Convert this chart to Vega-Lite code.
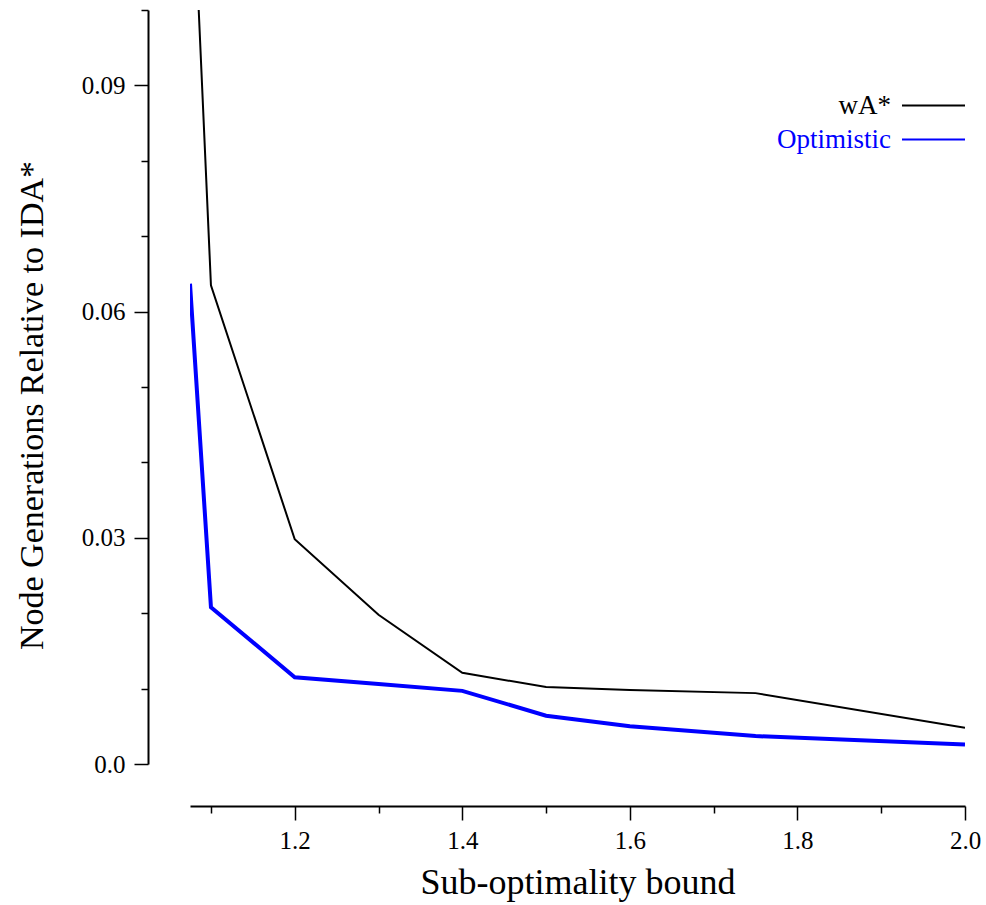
{
  "$schema": "https://vega.github.io/schema/vega-lite/v6.json",
  "autosize": {"type": "none"},
  "width": 775,
  "height": 754,
  "padding": {"left": 190, "top": 10, "right": 21, "bottom": 141},
  "background": "white",
  "config": {
    "view": {"stroke": null},
    "font": "Liberation Serif"
  },
  "data": {
    "values": [
      {"series": "wA*", "x": 1.075, "y": 0.126},
      {"series": "wA*", "x": 1.1, "y": 0.0635},
      {"series": "wA*", "x": 1.2, "y": 0.0298},
      {"series": "wA*", "x": 1.3, "y": 0.0198},
      {"series": "wA*", "x": 1.4, "y": 0.0121},
      {"series": "wA*", "x": 1.5, "y": 0.0102},
      {"series": "wA*", "x": 1.6, "y": 0.0098},
      {"series": "wA*", "x": 1.75, "y": 0.0094},
      {"series": "wA*", "x": 2.0, "y": 0.0048},
      {"series": "Optimistic", "x": 1.075, "y": 0.0637},
      {"series": "Optimistic", "x": 1.1, "y": 0.0208},
      {"series": "Optimistic", "x": 1.2, "y": 0.0115},
      {"series": "Optimistic", "x": 1.3, "y": 0.0106},
      {"series": "Optimistic", "x": 1.4, "y": 0.0097},
      {"series": "Optimistic", "x": 1.5, "y": 0.0064},
      {"series": "Optimistic", "x": 1.6, "y": 0.005},
      {"series": "Optimistic", "x": 1.75, "y": 0.0037},
      {"series": "Optimistic", "x": 2.0, "y": 0.0026}
    ]
  },
  "mark": {"type": "line", "clip": true},
  "encoding": {
    "x": {
      "field": "x",
      "type": "quantitative",
      "scale": {"domain": [1.075, 2.0], "nice": false, "zero": false},
      "axis": {
        "title": "Sub-optimality bound",
        "titleFont": "Liberation Serif",
        "titleFontSize": 36,
        "titleFontWeight": "normal",
        "titleColor": "black",
        "titlePadding": 12,
        "values": [1.1, 1.2, 1.3, 1.4, 1.5, 1.6, 1.7, 1.8, 1.9, 2.0],
        "labelExpr": "round(datum.value*10) % 2 == 0 ? format(datum.value, '.1f') : ''",
        "labelFont": "Liberation Serif",
        "labelFontSize": 25,
        "labelColor": "black",
        "labelPadding": 8,
        "labelFlush": false,
        "labelOverlap": false,
        "tickSize": {"condition": {"test": "round(datum.value*10) % 2 == 0", "value": 14}, "value": 7},
        "tickColor": "black",
        "tickWidth": 1.5,
        "domainColor": "black",
        "domainWidth": 2,
        "offset": 42,
        "grid": false
      }
    },
    "y": {
      "field": "y",
      "type": "quantitative",
      "scale": {"domain": [0, 0.1], "nice": false},
      "axis": {
        "title": "Node Generations Relative to IDA*",
        "titleFont": "Liberation Serif",
        "titleFontSize": 34,
        "titleFontWeight": "normal",
        "titleColor": "black",
        "titlePadding": 32,
        "titleY": 395,
        "values": [0, 0.01, 0.02, 0.03, 0.04, 0.05, 0.06, 0.07, 0.08, 0.09, 0.1],
        "labelExpr": "round(datum.value*100) % 3 == 0 && datum.value < 0.095 ? (datum.value == 0 ? '0.0' : format(datum.value, '.2f')) : ''",
        "labelFont": "Liberation Serif",
        "labelFontSize": 25,
        "labelColor": "black",
        "labelPadding": 9,
        "labelFlush": false,
        "labelOverlap": false,
        "tickSize": {"condition": {"test": "round(datum.value*100) % 3 == 0 && datum.value < 0.095", "value": 14}, "value": 7},
        "tickColor": "black",
        "tickWidth": 1.5,
        "domainColor": "black",
        "domainWidth": 2,
        "offset": 42,
        "grid": false
      }
    },
    "color": {
      "field": "series",
      "type": "nominal",
      "scale": {"domain": ["wA*", "Optimistic"], "range": ["black", "#0000ff"]},
      "legend": {
        "title": null,
        "orient": "none",
        "legendX": 730,
        "legendY": 82,
        "padding": 0,
        "symbolType": "M-3.15,0L3.15,0",
        "symbolSize": 400,
        "symbolStrokeWidth": 2,
        "rowPadding": 6,
        "labelAlign": "right",
        "labelOffset": -56,
        "labelFont": "Liberation Serif",
        "labelFontSize": 27,
        "labelLimit": 300,
        "encode": {
          "labels": {"update": {"fill": {"signal": "datum.label === 'Optimistic' ? '#0000ff' : 'black'"}}}
        }
      }
    },
    "strokeWidth": {"condition": {"test": "datum.series === 'Optimistic'", "value": 4}, "value": 2}
  }
}
